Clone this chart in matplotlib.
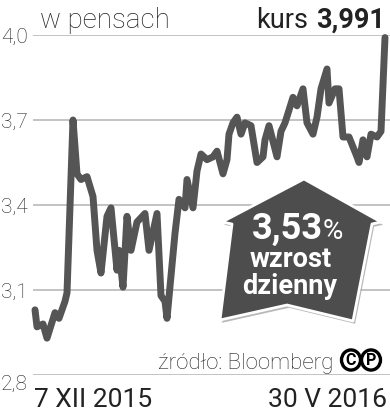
import matplotlib
matplotlib.use('Agg')
import matplotlib.pyplot as plt
import matplotlib.dates as mdates
import matplotlib.patheffects as pe
from matplotlib.patches import Polygon, Circle
import pandas as pd

# kurs w pensach
dates = ['2015-12-07', '2015-12-08', '2015-12-11', '2015-12-13', '2015-12-17',
         '2015-12-19', '2015-12-22', '2015-12-23', '2015-12-26', '2015-12-28',
         '2015-12-30', '2016-01-02', '2016-01-05', '2016-01-07', '2016-01-09',
         '2016-01-12', '2016-01-14', '2016-01-17', '2016-01-18', '2016-01-20',
         '2016-01-22', '2016-01-24', '2016-01-27', '2016-01-31', '2016-02-02',
         '2016-02-06', '2016-02-08', '2016-02-10', '2016-02-11', '2016-02-15',
         '2016-02-17', '2016-02-20', '2016-02-21', '2016-02-24', '2016-02-26',
         '2016-02-28', '2016-03-02', '2016-03-05', '2016-03-07', '2016-03-10',
         '2016-03-12', '2016-03-13', '2016-03-15', '2016-03-17', '2016-03-19',
         '2016-03-21', '2016-03-24', '2016-03-27', '2016-03-30', '2016-03-31',
         '2016-04-02', '2016-04-06', '2016-04-08', '2016-04-10', '2016-04-14',
         '2016-04-16', '2016-04-19', '2016-04-21', '2016-04-24', '2016-04-26',
         '2016-04-28', '2016-05-01', '2016-05-02', '2016-05-05', '2016-05-07',
         '2016-05-09', '2016-05-12', '2016-05-16', '2016-05-17', '2016-05-19',
         '2016-05-21', '2016-05-23', '2016-05-26', '2016-05-28', '2016-05-30']
kurs = [3.03, 2.97, 2.98, 2.93, 3.02,
        3.00, 3.06, 3.09, 3.70, 3.51,
        3.49, 3.50, 3.43, 3.24, 3.16,
        3.36, 3.39, 3.17, 3.24, 3.11,
        3.36, 3.24, 3.34, 3.37, 3.24,
        3.37, 3.08, 3.06, 3.00, 3.30,
        3.42, 3.39, 3.49, 3.39, 3.52,
        3.58, 3.56, 3.57, 3.59, 3.51,
        3.56, 3.65, 3.69, 3.71, 3.65,
        3.69, 3.68, 3.55, 3.57, 3.63,
        3.68, 3.57, 3.66, 3.69, 3.78,
        3.75, 3.81, 3.69, 3.65, 3.71,
        3.81, 3.88, 3.76, 3.81, 3.81,
        3.64, 3.64, 3.57, 3.55, 3.63,
        3.57, 3.65, 3.64, 3.66, 3.991]
y_ticks = [2.8, 3.1, 3.4, 3.7, 4.0]
y_labels = ['2,8', '3,1', '3,4', '3,7', '4,0']

W, H = 390, 413
FONT = 'Roboto'
INK = '#222222'
LINE = '#555555'

fig = plt.figure(figsize=(W / 100, H / 100), dpi=100)
fig.patch.set_facecolor('white')

def px(x, y):
    # image pixel (y down) -> figure fraction
    return (x / W, 1 - y / H)

ax = fig.add_axes([33 / W, (H - 375) / H, (W - 33) / W, 340 / H])
d = pd.to_datetime(dates)
ax.plot(d, kurs, color=LINE, lw=5, solid_capstyle='round',
        solid_joinstyle='round', clip_on=False, zorder=3)
ax.set_xlim(mdates.date2num(pd.Timestamp('2015-12-06')),
            mdates.date2num(pd.Timestamp('2015-12-06')) + 178.5)
ax.set_ylim(2.8, 4.0)
ax.set_yticks(y_ticks)
ax.set_yticklabels(y_labels)
ax.set_xticks([])
ax.tick_params(axis='y', length=0, pad=4, labelsize=15, labelcolor=INK)
for lab in ax.get_yticklabels():
    lab.set_fontfamily(FONT)
    lab.set_fontweight('light')
ax.get_yticklabels()[0].set_va('top')
ax.grid(axis='y', color='#b3b3b3', lw=1.1)
ax.set_axisbelow(True)
for s in ax.spines.values():
    s.set_visible(False)

# titles
fig.text(*px(40, 28), 'w pensach', fontsize=20, family=FONT, weight='light',
         color=INK, ha='left', va='baseline')
fig.text(*px(385, 28), '3,991', fontsize=19.5, family=FONT, weight='bold',
         color=INK, ha='right', va='baseline')
fig.text(*px(308, 28), 'kurs', fontsize=19.5, family=FONT, weight='normal',
         color=INK, ha='right', va='baseline')

# date labels
fig.text(*px(34, 407), '7 XII 2015', fontsize=19, family=FONT, weight='normal',
         color=INK, ha='left', va='baseline')
fig.text(*px(387, 407), '30 V 2016', fontsize=19, family=FONT, weight='normal',
         color=INK, ha='right', va='baseline')

# source
fig.text(*px(333, 369), 'źródło: Bloomberg', fontsize=16, family=FONT,
         weight='light', color=INK, ha='right', va='baseline')
for cx, ch in [(351, 'C'), (371, 'P')]:
    c = Circle(px(cx, 360), 9.5 / W, transform=fig.transFigure, fc='white',
               ec='black', lw=2.4)
    fig.patches.append(c)
    fig.text(*px(cx, 360.5), ch, fontsize=11.5, family=FONT, weight='bold',
             color='black', ha='center', va='center')

# arrow shaped badge
verts = [(304, 179), (381, 222), (372, 224), (353, 321), (287, 305),
         (220, 320), (232, 224), (222, 222)]
badge = Polygon([px(x, y) for x, y in verts], closed=True,
                transform=fig.transFigure, fc='#4d4d4d', ec='white', lw=2,
                joinstyle='round', zorder=5)
badge.set_path_effects([pe.SimplePatchShadow(offset=(1.5, -2), shadow_rgbFace='#888888', alpha=0.6),
                        pe.Normal()])
fig.patches.append(badge)

fig.text(*px(323, 239), '3,53', fontsize=26, family=FONT, weight='bold',
         color='white', ha='right', va='baseline', zorder=6)
fig.text(*px(323, 239), '%', fontsize=20, family=FONT, weight='normal',
         color='white', ha='left', va='baseline', zorder=6)
fig.text(*px(291, 267), 'wzrost', fontsize=19.5, family=FONT, weight='bold',
         color='white', ha='center', va='baseline', zorder=6)
fig.text(*px(290, 294), 'dzienny', fontsize=19.5, family=FONT, weight='bold',
         color='white', ha='center', va='baseline', zorder=6)

fig.savefig('out.png', dpi=100)
